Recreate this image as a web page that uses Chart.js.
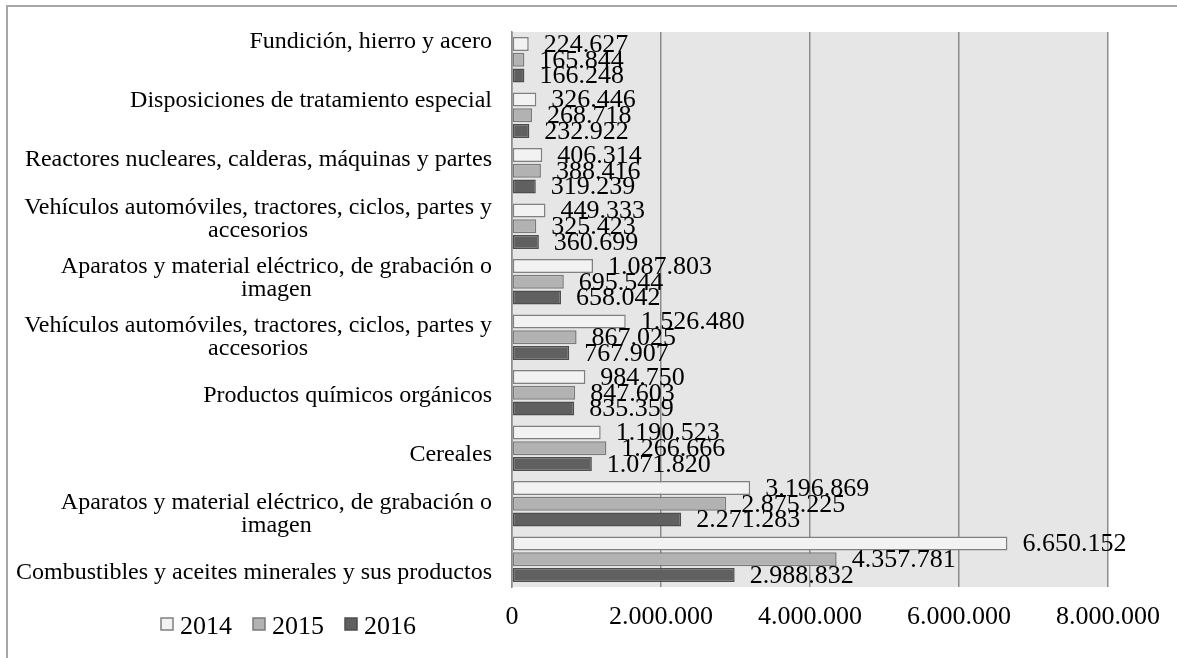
<!DOCTYPE html>
<html>
<head>
<meta charset="utf-8">
<script src="https://cdn.jsdelivr.net/npm/chart.js@4.4.1/dist/chart.umd.min.js"></script>
<style>
  body { margin: 0; background: #fff; }
  #wrap { position: relative; width: 1177px; height: 658px; }
  #frame { position: absolute; left: 6px; top: 5px; width: 1200px; height: 700px;
           border-left: 2px solid #a6a6a6; border-top: 2px solid #a6a6a6; pointer-events: none; }
</style>
</head>
<body>
<div id="wrap">
  <canvas id="exportChart" width="1177" height="658"></canvas>
  <div id="frame"></div>
</div>
<script>
// Categorías (de arriba hacia abajo)
const categorias = [
    ["Fundición, hierro y acero"],
    ["Disposiciones de tratamiento especial"],
    ["Reactores nucleares, calderas, máquinas y partes"],
    ["Vehículos automóviles, tractores, ciclos, partes y", "accesorios"],
    ["Aparatos y material eléctrico, de grabación o", "imagen"],
    ["Vehículos automóviles, tractores, ciclos, partes y", "accesorios"],
    ["Productos químicos orgánicos"],
    ["Cereales"],
    ["Aparatos y material eléctrico, de grabación o", "imagen"],
    ["Combustibles y aceites minerales y sus productos"]
];

const valores2014 = [224627, 326446, 406314, 449333, 1087803, 1526480, 984750, 1190523, 3196869, 6650152];
const valores2015 = [165844, 268718, 388416, 325423, 695544, 867025, 847603, 1266666, 2875225, 4357781];
const valores2016 = [166248, 232922, 319239, 360699, 658042, 767907, 835359, 1071820, 2271283, 2988832];

const ejeMin = 0;
const ejeMax = 8000000;
const ejePaso = 2000000;

const FUENTE = '"Liberation Serif", "Times New Roman", serif';

function formatoMiles(n) {
    return String(Math.round(n)).replace(/\B(?=(\d{3})+(?!\d))/g, ".");
}

// fondo gris del área de trazado
const fondoPlot = {
    id: "fondoPlot",
    beforeDraw(chart) {
        const { ctx, chartArea: a } = chart;
        ctx.save();
        ctx.fillStyle = "#e6e6e6";
        ctx.fillRect(a.left, a.top, a.right - a.left, a.bottom - a.top);
        ctx.restore();
    }
};

// etiquetas de valor junto a cada barra
const etiquetasValor = {
    id: "etiquetasValor",
    afterDatasetsDraw(chart) {
        const ctx = chart.ctx;
        ctx.save();
        ctx.font = "26px " + FUENTE;
        ctx.fillStyle = "#000";
        ctx.textAlign = "left";
        ctx.textBaseline = "middle";
        chart.data.datasets.forEach((ds, i) => {
            chart.getDatasetMeta(i).data.forEach((bar, j) => {
                ctx.fillText(formatoMiles(ds.data[j]), bar.x + 15, bar.y + 1);
            });
        });
        ctx.restore();
    }
};

// etiquetas de categoría (bloque centrado, alineado a la derecha)
const etiquetasCategoria = {
    id: "etiquetasCategoria",
    afterDraw(chart) {
        const { ctx, chartArea: a } = chart;
        const labels = chart.data.labels;
        const n = labels.length;
        const y0 = a.top + 10;
        const y1 = a.bottom - 14;
        const alto = 23;
        ctx.save();
        ctx.font = "24px " + FUENTE;
        ctx.fillStyle = "#000";
        ctx.textAlign = "center";
        ctx.textBaseline = "middle";
        labels.forEach((lineas, i) => {
            const cy = y0 + i * (y1 - y0) / (n - 1);
            const maxW = Math.max(...lineas.map(l => ctx.measureText(l).width));
            const cx = a.left - 20 - maxW / 2;
            lineas.forEach((l, k) => {
                ctx.fillText(l, cx, cy - (lineas.length - 1) * alto / 2 + k * alto);
            });
        });
        ctx.restore();
    }
};

// leyenda abajo a la izquierda
const leyenda = {
    id: "leyenda",
    afterDraw(chart) {
        const { ctx, chartArea: a } = chart;
        let x = 161;
        const y = a.bottom + 40;
        ctx.save();
        ctx.font = "26px " + FUENTE;
        ctx.textAlign = "left";
        ctx.textBaseline = "middle";
        chart.data.datasets.forEach(ds => {
            ctx.fillStyle = ds.backgroundColor;
            ctx.strokeStyle = ds.borderColor;
            ctx.lineWidth = 1.5;
            ctx.fillRect(x, y - 9, 12, 12);
            ctx.strokeRect(x, y - 9, 12, 12);
            ctx.fillStyle = "#000";
            ctx.fillText(ds.label, x + 19, y);
            x += 19 + ctx.measureText(ds.label).width + 21;
        });
        ctx.restore();
    }
};

new Chart(document.getElementById("exportChart"), {
    type: "bar",
    data: {
        labels: categorias,
        datasets: [
            {
                label: "2014",
                data: valores2014,
                backgroundColor: "#f2f2f2",
                borderColor: "#808080",
                borderWidth: 1.5,
                borderSkipped: false,
            },
            {
                label: "2015",
                data: valores2015,
                backgroundColor: "#b2b2b2",
                borderColor: "#7a7a7a",
                borderWidth: 1.5,
                borderSkipped: false,
            },
            {
                label: "2016",
                data: valores2016,
                backgroundColor: "#606060",
                borderColor: "#4d4d4d",
                borderWidth: 1.5,
                borderSkipped: false,
            },
        ],
    },
    options: {
        indexAxis: "y",
        responsive: false,
        animation: false,
        categoryPercentage: 0.85,
        barPercentage: 0.89,
        layout: { padding: { left: 512, top: 32, right: 69, bottom: 0 } },
        plugins: {
            legend: { display: false },
            tooltip: { enabled: false },
        },
        scales: {
            x: {
                min: ejeMin,
                max: ejeMax,
                afterFit: (s) => { s.height = 71; },
                ticks: {
                    stepSize: ejePaso,
                    padding: 15,
                    color: "#000",
                    font: { family: FUENTE, size: 26 },
                    callback: (v) => formatoMiles(v),
                },
                grid: { color: "#8c8c8c", lineWidth: 1.5, drawTicks: false },
                border: { display: false },
            },
            y: {
                afterFit: (s) => { s.width = 0; },
                ticks: { display: false },
                grid: { display: false },
                border: { display: true, color: "#8c8c8c", width: 1.5 },
            },
        },
    },
    plugins: [fondoPlot, etiquetasValor, etiquetasCategoria, leyenda],
});
</script>
</body>
</html>
